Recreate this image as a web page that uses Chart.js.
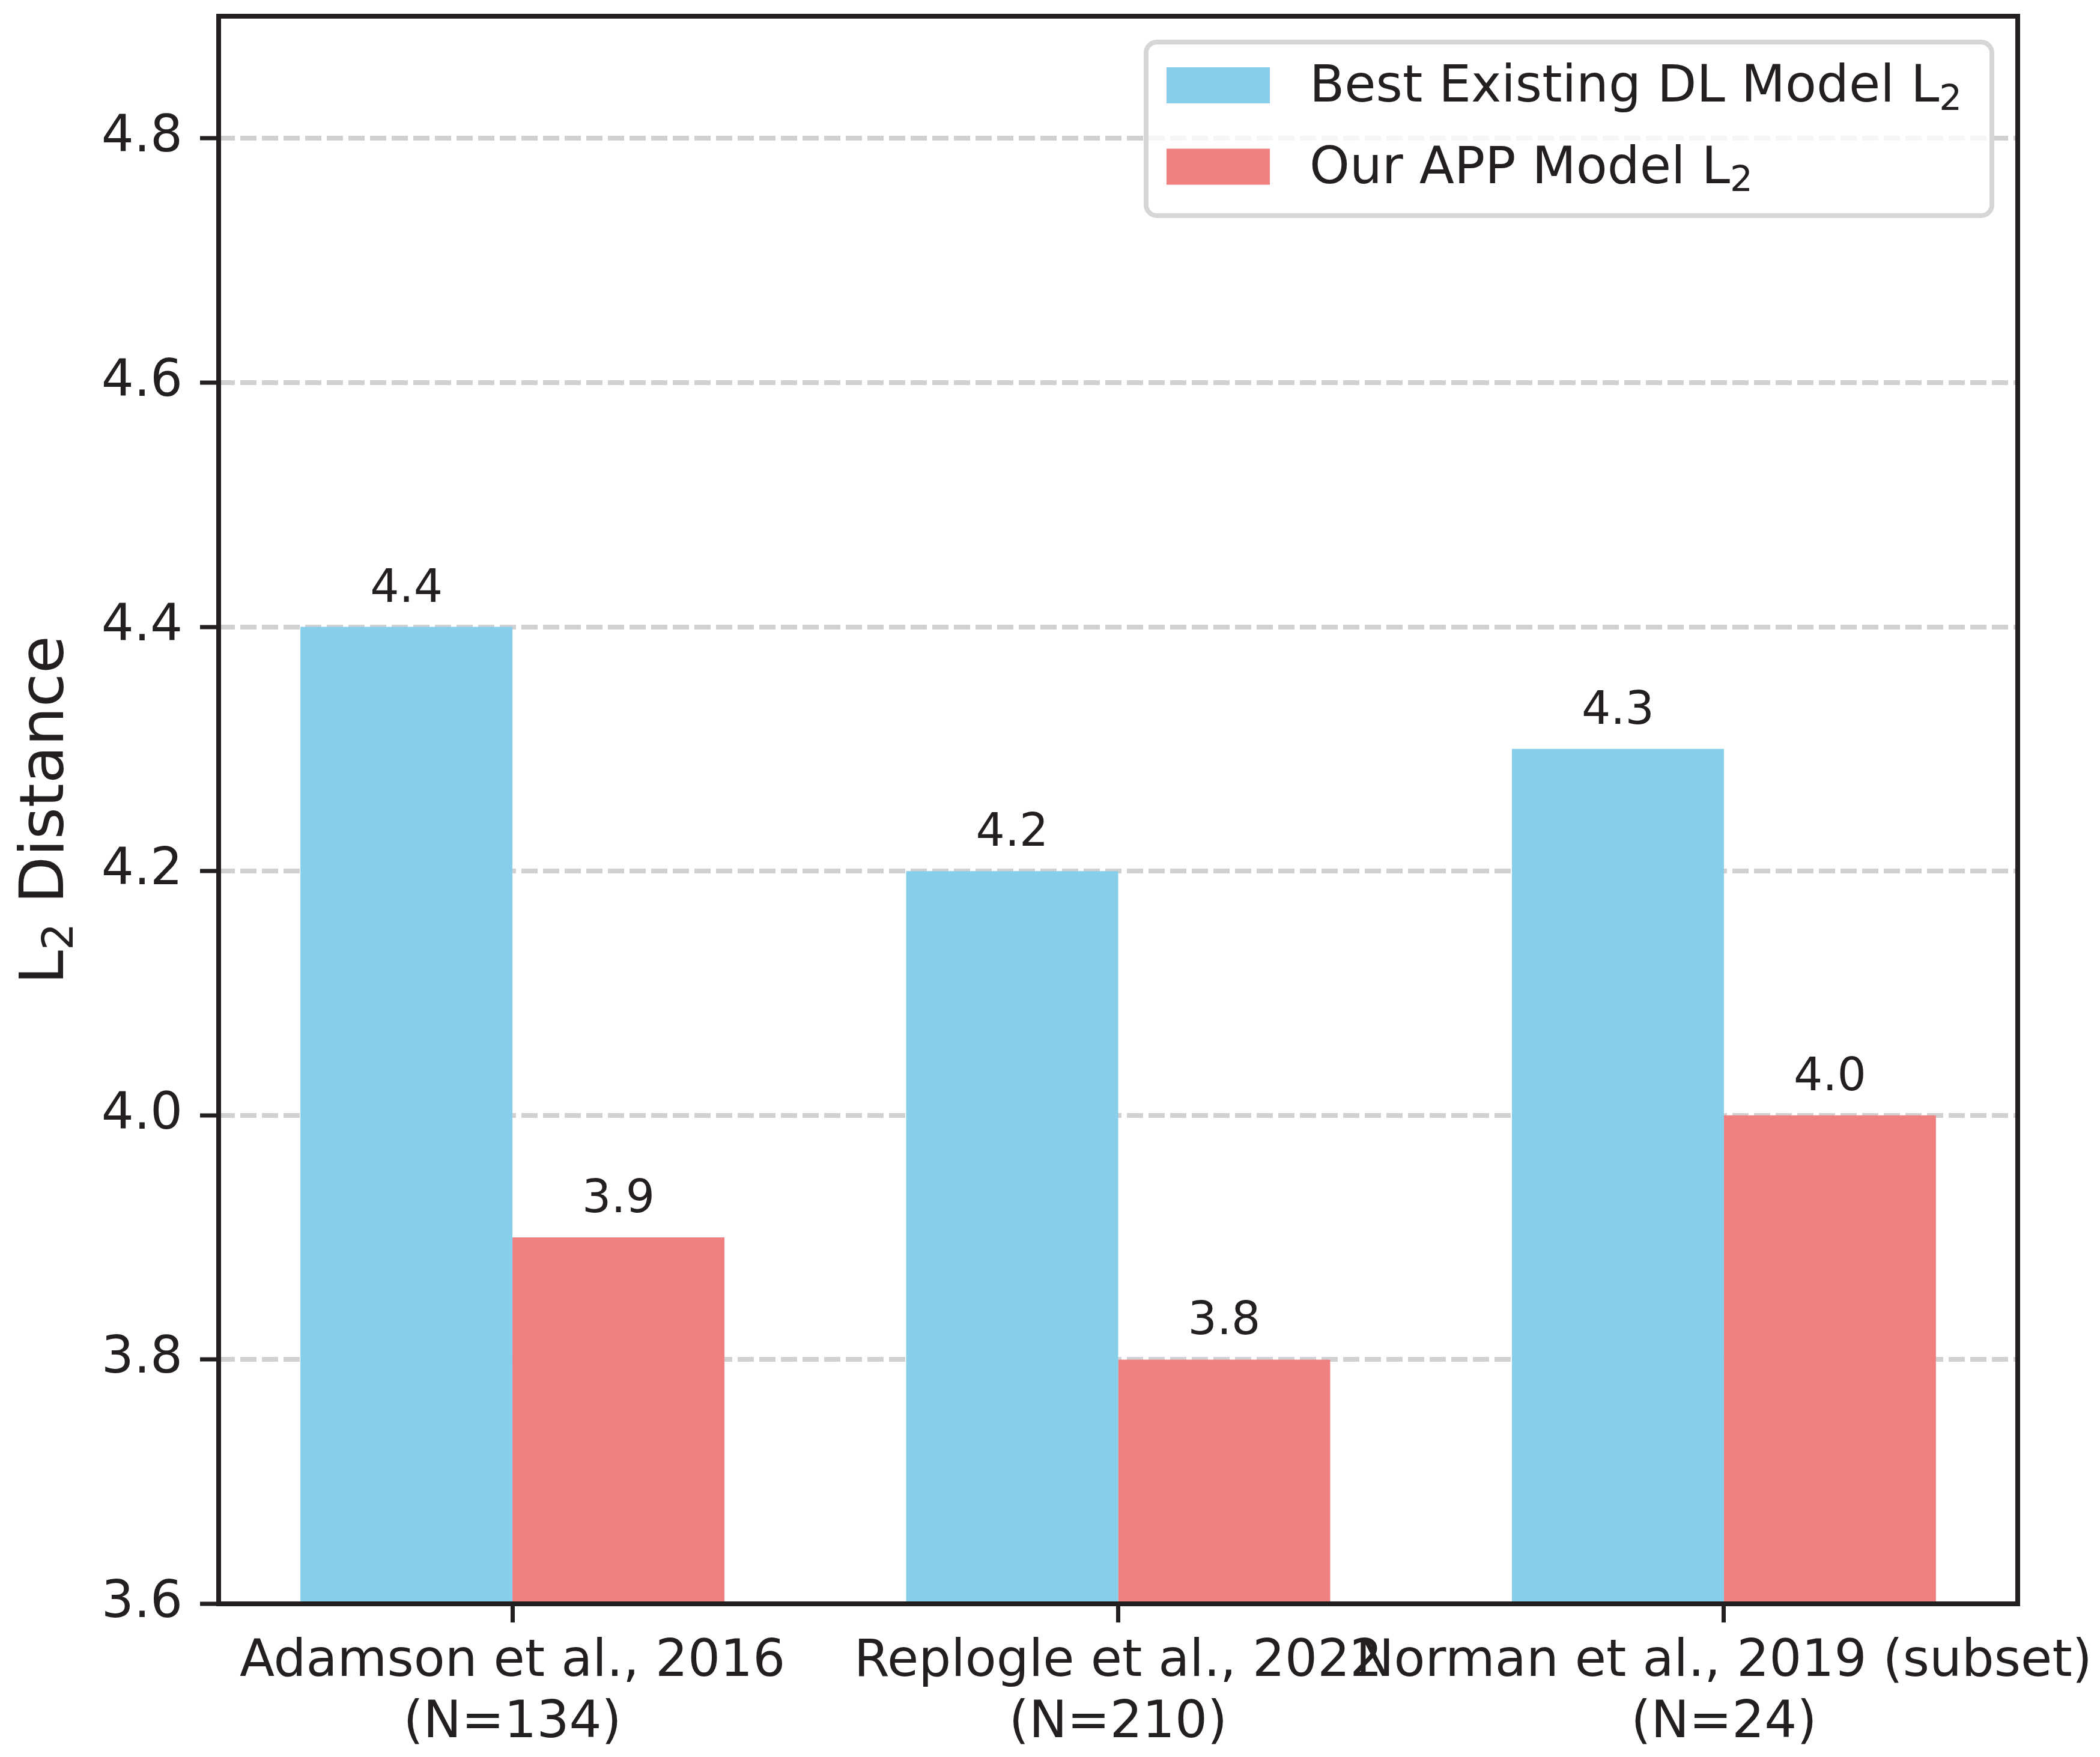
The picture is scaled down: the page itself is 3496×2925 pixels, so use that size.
<!DOCTYPE html>
<html>
<head>
<meta charset="utf-8">
<script src="https://cdn.jsdelivr.net/npm/chart.js@4"></script>
<style>
  html, body { margin: 0; padding: 0; background: #fff; overflow: hidden; }
  canvas { display: block; }
</style>
</head>
<body>
<canvas id="chart" width="3496" height="2925"></canvas>
<script>
// data
const categories = [
    ['Adamson et al., 2016', '(N=134)'],
    ['Replogle et al., 2022', '(N=210)'],
    ['Norman et al., 2019 (subset)', '(N=24)']
];
// "_2" marks a subscript, drawn like matplotlib mathtext
const seriesNames = ['Best Existing DL Model L_2', 'Our APP Model L_2'];
const yTitle = 'L_2 Distance';
const bestExisting = [4.4, 4.2, 4.3];
const ourApp = [3.9, 3.8, 4.0];
const yTicks = [3.6, 3.8, 4.0, 4.2, 4.4, 4.6, 4.8];

const ink = '#231f20';
const font = 'DejaVu Sans';
Chart.defaults.font.family = font;
Chart.defaults.color = ink;

// split "L_2 Distance" into runs and draw the subscript smaller and lower
function subParts(text) {
    const parts = [];
    text.split(/_(\w)/).forEach((t, i) => {
        if (t) parts.push({ t: t, sub: i % 2 === 1 });
    });
    return parts;
}
function measureSub(ctx, text, size) {
    let w = 0;
    subParts(text).forEach(p => {
        ctx.font = (p.sub ? size * 0.7 : size) + 'px "' + font + '"';
        w += ctx.measureText(p.t).width;
    });
    return w;
}
function drawSub(ctx, text, x, y, size) {
    ctx.textAlign = 'left';
    ctx.textBaseline = 'alphabetic';
    subParts(text).forEach(p => {
        ctx.font = (p.sub ? size * 0.7 : size) + 'px "' + font + '"';
        ctx.fillText(p.t, x, p.sub ? y + size * 0.16 : y);
        x += ctx.measureText(p.t).width;
    });
}

// spines drawn on top of the bars
const frame = {
    id: 'frame',
    afterDatasetsDraw(chart) {
        const { ctx, chartArea: a } = chart;
        ctx.save();
        ctx.strokeStyle = ink;
        ctx.lineWidth = 8;
        ctx.strokeRect(a.left, a.top, a.right - a.left, a.bottom - a.top);
        ctx.restore();
    }
};

const valueLabels = {
    id: 'valueLabels',
    afterDatasetsDraw(chart) {
        const ctx = chart.ctx;
        ctx.save();
        ctx.font = '76px "' + font + '"';
        ctx.fillStyle = ink;
        ctx.textAlign = 'center';
        ctx.textBaseline = 'alphabetic';
        chart.data.datasets.forEach((ds, di) => {
            chart.getDatasetMeta(di).data.forEach((bar, i) => {
                ctx.fillText(ds.data[i].y.toFixed(1), bar.x, bar.y - 42);
            });
        });
        ctx.restore();
    }
};

// rotated y axis title with a real subscript
const yAxisTitle = {
    id: 'yAxisTitle',
    afterDraw(chart) {
        const { ctx, chartArea: a } = chart;
        const size = 102;
        ctx.save();
        ctx.fillStyle = ink;
        const w = measureSub(ctx, yTitle, size);
        ctx.translate(105, (a.top + a.bottom) / 2);
        ctx.rotate(-Math.PI / 2);
        drawSub(ctx, yTitle, -w / 2, 0, size);
        ctx.restore();
    }
};

// matplotlib-like legend box in the upper right corner
const boxLegend = {
    id: 'boxLegend',
    afterDraw(chart) {
        const { ctx, chartArea: a } = chart;
        const right = a.right - 43, top = a.top + 43;
        const left = right - 1408, bottom = top + 289;
        ctx.save();
        ctx.beginPath();
        ctx.roundRect(left, top, right - left, bottom - top, 18);
        ctx.fillStyle = 'rgba(255,255,255,0.8)';
        ctx.fill();
        ctx.lineWidth = 8;
        ctx.strokeStyle = '#d6d6d6';
        ctx.stroke();

        chart.data.datasets.forEach((ds, i) => {
            const cy = top + 72 + i * 135.5;
            ctx.fillStyle = ds.backgroundColor;
            ctx.fillRect(left + 34, cy - 30, 172, 60);
            ctx.fillStyle = ink;
            drawSub(ctx, ds.label, left + 272, cy + 27, 85);
        });
        ctx.restore();
    }
};

new Chart(document.getElementById('chart'), {
    type: 'bar',
    data: {
        datasets: [{
            label: seriesNames[0],
            data: bestExisting.map((v, i) => ({ x: i, y: v })),
            backgroundColor: '#87CEEB',
            borderWidth: 0,
        }, {
            label: seriesNames[1],
            data: ourApp.map((v, i) => ({ x: i, y: v })),
            backgroundColor: '#F08080',
            borderWidth: 0,
        }]
    },
    options: {
        responsive: false,
        devicePixelRatio: 1,
        animation: false,
        categoryPercentage: 0.7,
        barPercentage: 1.0,
        layout: { padding: { left: 0, right: 137, top: 27, bottom: 0 } },
        plugins: {
            legend: { display: false },
            tooltip: { enabled: false }
        },
        scales: {
            x: {
                type: 'linear',
                min: -0.485,
                max: 2.485,
                offset: false,
                border: { display: false },
                grid: {
                    drawOnChartArea: false,
                    offset: false,
                    tickLength: 31,
                    tickWidth: 7,
                    tickColor: ink,
                },
                ticks: {
                    autoSkip: false,
                    maxRotation: 0,
                    minRotation: 0,
                    padding: 16,
                    color: ink,
                    font: { size: 85, lineHeight: 1.2 },
                    callback: (v) => categories[v],
                },
                afterBuildTicks: (scale) => {
                    scale.ticks = categories.map((c, i) => ({ value: i }));
                },
                afterFit: (scale) => {
                    scale.height = 255;
                    scale.paddingLeft = 0;
                    scale.paddingRight = 0;
                }
            },
            y: {
                min: 3.6,
                max: 4.9,
                border: { display: false, dash: [27, 9] },
                grid: {
                    color: '#d1d1d3',
                    lineWidth: 8,
                    tickLength: 31,
                    tickWidth: 7,
                    tickColor: ink,
                    tickBorderDash: [],
                },
                ticks: {
                    padding: 29,
                    color: ink,
                    font: { size: 85 },
                    callback: (v) => v.toFixed(1),
                },
                afterBuildTicks: (scale) => {
                    scale.ticks = yTicks.map(v => ({ value: v }));
                },
                afterFit: (scale) => {
                    scale.width = 364;
                    scale.paddingTop = 0;
                    scale.paddingBottom = 0;
                }
            }
        }
    },
    plugins: [frame, valueLabels, yAxisTitle, boxLegend]
});
</script>
</body>
</html>
